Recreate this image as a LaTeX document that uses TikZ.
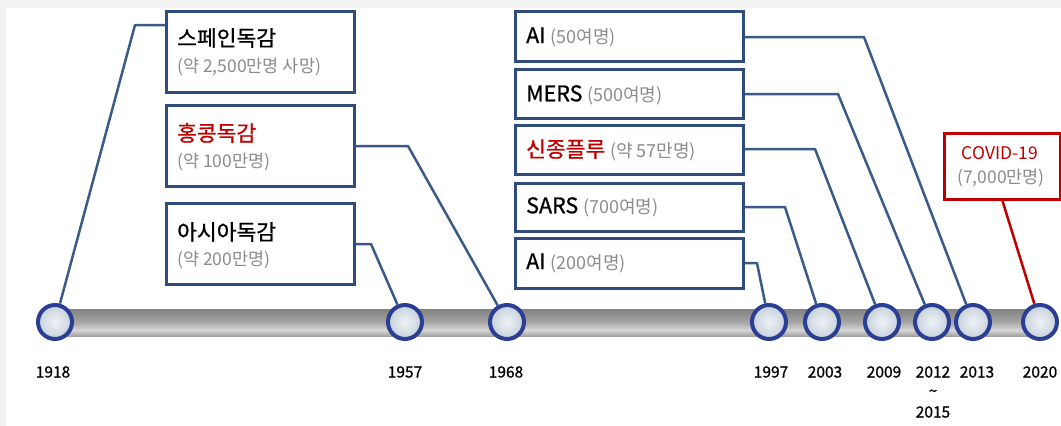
\documentclass[tikz,border=0pt]{standalone}
\usepackage{fontspec}
\setmainfont{Noto Sans CJK KR}
\newfontfamily\titlefont{Noto Sans CJK KR}[FakeBold=0.9]
\definecolor{linec}{HTML}{3A5A88}
\definecolor{boxc}{HTML}{2F4C7C}
\definecolor{ringc}{HTML}{2A3F94}
\definecolor{redc}{HTML}{C00000}
\definecolor{grayt}{HTML}{8C8C8C}
\definecolor{bgband}{HTML}{F2F2F2}
\definecolor{ringin}{HTML}{EEF2F6}
\definecolor{ringout}{HTML}{C6D0DB}
\newcommand{\grtxt}[1]{{\normalfont\color{grayt}\fontsize{18}{21}\selectfont #1}}
\pgfdeclareverticalshading{barshade}{100bp}{color(0bp)=(black!78); color(14bp)=(black!58); color(36bp)=(black!16); color(52bp)=(black!36); color(86bp)=(black!55); color(100bp)=(black!78)}
\begin{document}
\begin{tikzpicture}[x=1pt,y=-1pt,
  box/.style={draw=boxc, line width=3pt, fill=white, anchor=north west, inner sep=0pt},
  conn/.style={draw=linec, line width=2.5pt, line join=round},
  ring/.style={circle, draw=ringc, line width=4pt, minimum size=34pt, inner sep=0pt, shading=radial, inner color=ringin, outer color=ringout},
  ttl/.style={anchor=west, inner sep=0pt, font=\titlefont\fontsize{21.5}{24}\selectfont},
  sub/.style={anchor=west, inner sep=0pt, text=grayt, font=\fontsize{17.5}{20}\selectfont},
  yr/.style={inner sep=0pt, font=\titlefont\fontsize{15.5}{18}\selectfont}
]
\useasboundingbox (0,0) rectangle (1061,426);
\fill[bgband] (0,0) rectangle (1061,426);
\fill[white] (6,8) rectangle (1061,426);

% timeline bar
\shade[shading=barshade] (55,309) rectangle (1040,336);

% circles
\node[ring] (c1918) at (55,322) {};
\node[ring] (c1957) at (405,322) {};
\node[ring] (c1968) at (507,322) {};
\node[ring] (c1997) at (769,322) {};
\node[ring] (c2003) at (822,322) {};
\node[ring] (c2009) at (882,322) {};
\node[ring] (c2012) at (932,322) {};
\node[ring] (c2013) at (973,322) {};
\node[ring] (c2020) at (1040,322) {};

% years
\node[yr] (y1918) at (53,372) {1918};
\node[yr] (y1957) at (405,372) {1957};
\node[yr] (y1968) at (506,372) {1968};
\node[yr] (y1997) at (771,372) {1997};
\node[yr] (y2003) at (825,372) {2003};
\node[yr] (y2009) at (884,372) {2009};
\node[yr] (y2012) at (933,372) {2012};
\node[yr] (ytil) at (933,393) {\textasciitilde};
\node[yr] (y2015) at (933,412) {2015};
\node[yr] (y2013) at (977,372) {2013};
\node[yr] (y2020) at (1040,372) {2020};

% left boxes
\node[box, minimum width=188pt, minimum height=81pt] (b1) at (165,10) {};
\node[box, minimum width=188pt, minimum height=81pt] (b2) at (165,104) {};
\node[box, minimum width=188pt, minimum height=81pt] (b3) at (165,202) {};
\node[ttl] (t1) at (177,38) {스페인독감};
\node[sub] (s1) at (177,67) {(약 2,500만명 사망)};
\node[ttl, text=redc] (t2) at (177,133) {홍콩독감};
\node[sub] (s2) at (177,162) {(약 100만명)};
\node[ttl] (t3) at (177,232) {아시아독감};
\node[sub] (s3) at (177,260) {(약 200만명)};

% right boxes
\node[box, minimum width=228pt, minimum height=50pt] (r1) at (514,10) {};
\node[box, minimum width=228pt, minimum height=49pt] (r2) at (514,68) {};
\node[box, minimum width=228pt, minimum height=49pt] (r3) at (514,124) {};
\node[box, minimum width=228pt, minimum height=48pt] (r4) at (514,182) {};
\node[box, minimum width=228pt, minimum height=50pt] (r5) at (514,237) {};
\node[ttl] (rt1) at (526,37) {AI \grtxt{(50여명)}};
\node[ttl] (rt2) at (526,95) {MERS \grtxt{(500여명)}};
\node[ttl] (rt3) at (526,150) {{\color{redc}신종플루} \grtxt{(약 57만명)}};
\node[ttl] (rt4) at (526,207) {SARS \grtxt{(700여명)}};
\node[ttl] (rt5) at (526,263) {AI \grtxt{(200여명)}};

% COVID box
\node[box, draw=redc, minimum width=116pt, minimum height=66pt] (cv) at (943,132) {};
\node[inner sep=0pt, text=redc, font=\fontsize{17.5}{20}\selectfont] (cvt) at (1000,153) {COVID-19};
\node[inner sep=0pt, text=grayt, font=\fontsize{17.5}{20}\selectfont] (cvs) at (1001,178) {(7,000만명)};

% connectors
\coordinate (k1918) at (135,25);
\coordinate (k1957) at (371,244);
\coordinate (k1968) at (408,146);
\coordinate (k1997) at (757,263);
\coordinate (k2003) at (785,207);
\coordinate (k2009) at (815,149);
\coordinate (k2012) at (838,94);
\coordinate (k2013) at (864,37);
\draw[conn] (c1918) -- (k1918) -- (k1918 -| b1.west);
\draw[conn] (c1957) -- (k1957) -- (k1957 -| b3.east);
\draw[conn] (c1968) -- (k1968) -- (k1968 -| b2.east);
\draw[conn] (c1997) -- (k1997) -- (k1997 -| r5.east);
\draw[conn] (c2003) -- (k2003) -- (k2003 -| r4.east);
\draw[conn] (c2009) -- (k2009) -- (k2009 -| r3.east);
\draw[conn] (c2012) -- (k2012) -- (k2012 -| r2.east);
\draw[conn] (c2013) -- (k2013) -- (k2013 -| r1.east);
\draw[conn, draw=redc] (c2020) -- (cv.south);
\end{tikzpicture}
\end{document}
